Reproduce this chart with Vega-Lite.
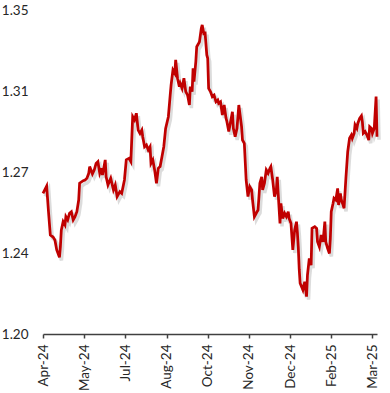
{
  "$schema": "https://vega.github.io/schema/vega-lite/v6.json",
  "width": 334,
  "height": 324,
  "autosize": "none",
  "padding": {"left": 43, "top": 10, "right": 13, "bottom": 59},
  "background": "white",
  "config": {"view": {"stroke": null}, "font": "Lato"},
  "data": {"values": [
    {"date": "2024-04-04", "rate": 1.2651}, {"date": "2024-04-08", "rate": 1.2685}, {"date": "2024-04-10", "rate": 1.2566},
    {"date": "2024-04-12", "rate": 1.2458}, {"date": "2024-04-15", "rate": 1.2449}, {"date": "2024-04-17", "rate": 1.2435},
    {"date": "2024-04-19", "rate": 1.2389}, {"date": "2024-04-22", "rate": 1.2355}, {"date": "2024-04-23", "rate": 1.2404},
    {"date": "2024-04-24", "rate": 1.2481}, {"date": "2024-04-26", "rate": 1.2520}, {"date": "2024-04-28", "rate": 1.2505},
    {"date": "2024-04-29", "rate": 1.2543}, {"date": "2024-05-01", "rate": 1.2528}, {"date": "2024-05-03", "rate": 1.2559},
    {"date": "2024-05-05", "rate": 1.2566}, {"date": "2024-05-07", "rate": 1.2528}, {"date": "2024-05-09", "rate": 1.2543},
    {"date": "2024-05-11", "rate": 1.2566}, {"date": "2024-05-13", "rate": 1.2620}, {"date": "2024-05-14", "rate": 1.2698},
    {"date": "2024-05-18", "rate": 1.2710}, {"date": "2024-05-20", "rate": 1.2713}, {"date": "2024-05-22", "rate": 1.2721},
    {"date": "2024-05-24", "rate": 1.2744}, {"date": "2024-05-25", "rate": 1.2775}, {"date": "2024-05-27", "rate": 1.2752},
    {"date": "2024-05-28", "rate": 1.2741}, {"date": "2024-05-30", "rate": 1.2759}, {"date": "2024-06-01", "rate": 1.2790},
    {"date": "2024-06-03", "rate": 1.2798}, {"date": "2024-06-05", "rate": 1.2744}, {"date": "2024-06-07", "rate": 1.2767},
    {"date": "2024-06-08", "rate": 1.2736}, {"date": "2024-06-11", "rate": 1.2806}, {"date": "2024-06-12", "rate": 1.2728},
    {"date": "2024-06-14", "rate": 1.2690}, {"date": "2024-06-17", "rate": 1.2721}, {"date": "2024-06-20", "rate": 1.2667},
    {"date": "2024-06-22", "rate": 1.2690}, {"date": "2024-06-24", "rate": 1.2636}, {"date": "2024-06-27", "rate": 1.2659},
    {"date": "2024-06-29", "rate": 1.2651}, {"date": "2024-07-02", "rate": 1.2713}, {"date": "2024-07-04", "rate": 1.2806},
    {"date": "2024-07-07", "rate": 1.2813}, {"date": "2024-07-09", "rate": 1.2798}, {"date": "2024-07-11", "rate": 1.3006},
    {"date": "2024-07-13", "rate": 1.2991}, {"date": "2024-07-15", "rate": 1.3022}, {"date": "2024-07-17", "rate": 1.2944},
    {"date": "2024-07-19", "rate": 1.2929}, {"date": "2024-07-21", "rate": 1.2944}, {"date": "2024-07-22", "rate": 1.2913},
    {"date": "2024-07-24", "rate": 1.2867}, {"date": "2024-07-26", "rate": 1.2875}, {"date": "2024-07-28", "rate": 1.2852},
    {"date": "2024-07-30", "rate": 1.2867}, {"date": "2024-07-31", "rate": 1.2790}, {"date": "2024-08-02", "rate": 1.2806},
    {"date": "2024-08-04", "rate": 1.2759}, {"date": "2024-08-06", "rate": 1.2698}, {"date": "2024-08-08", "rate": 1.2767},
    {"date": "2024-08-10", "rate": 1.2775}, {"date": "2024-08-12", "rate": 1.2821}, {"date": "2024-08-14", "rate": 1.2867},
    {"date": "2024-08-16", "rate": 1.2952}, {"date": "2024-08-19", "rate": 1.3006}, {"date": "2024-08-21", "rate": 1.3106},
    {"date": "2024-08-22", "rate": 1.3153}, {"date": "2024-08-24", "rate": 1.3222}, {"date": "2024-08-26", "rate": 1.3207},
    {"date": "2024-08-27", "rate": 1.3269}, {"date": "2024-08-29", "rate": 1.3184}, {"date": "2024-08-31", "rate": 1.3145},
    {"date": "2024-09-01", "rate": 1.3160}, {"date": "2024-09-03", "rate": 1.3137}, {"date": "2024-09-05", "rate": 1.3184},
    {"date": "2024-09-07", "rate": 1.3122}, {"date": "2024-09-09", "rate": 1.3106}, {"date": "2024-09-11", "rate": 1.3060},
    {"date": "2024-09-12", "rate": 1.3145}, {"date": "2024-09-14", "rate": 1.3122}, {"date": "2024-09-15", "rate": 1.3230},
    {"date": "2024-09-16", "rate": 1.3168}, {"date": "2024-09-18", "rate": 1.3261}, {"date": "2024-09-19", "rate": 1.3330},
    {"date": "2024-09-21", "rate": 1.3345}, {"date": "2024-09-22", "rate": 1.3353}, {"date": "2024-09-24", "rate": 1.3415},
    {"date": "2024-09-25", "rate": 1.3431}, {"date": "2024-09-27", "rate": 1.3384}, {"date": "2024-09-28", "rate": 1.3400},
    {"date": "2024-09-30", "rate": 1.3292}, {"date": "2024-10-01", "rate": 1.3276}, {"date": "2024-10-02", "rate": 1.3137},
    {"date": "2024-10-04", "rate": 1.3122}, {"date": "2024-10-06", "rate": 1.3099}, {"date": "2024-10-08", "rate": 1.3106},
    {"date": "2024-10-10", "rate": 1.3075}, {"date": "2024-10-12", "rate": 1.3083}, {"date": "2024-10-13", "rate": 1.3068},
    {"date": "2024-10-15", "rate": 1.3075}, {"date": "2024-10-17", "rate": 1.3014}, {"date": "2024-10-19", "rate": 1.3060},
    {"date": "2024-10-21", "rate": 1.2999}, {"date": "2024-10-22", "rate": 1.2983}, {"date": "2024-10-24", "rate": 1.2937},
    {"date": "2024-10-26", "rate": 1.2983}, {"date": "2024-10-28", "rate": 1.3029}, {"date": "2024-10-29", "rate": 1.2952},
    {"date": "2024-10-31", "rate": 1.2913}, {"date": "2024-11-02", "rate": 1.2952}, {"date": "2024-11-04", "rate": 1.3060},
    {"date": "2024-11-07", "rate": 1.2960}, {"date": "2024-11-08", "rate": 1.2898}, {"date": "2024-11-10", "rate": 1.2883},
    {"date": "2024-11-12", "rate": 1.2713}, {"date": "2024-11-14", "rate": 1.2636}, {"date": "2024-11-16", "rate": 1.2682},
    {"date": "2024-11-18", "rate": 1.2667}, {"date": "2024-11-19", "rate": 1.2620}, {"date": "2024-11-21", "rate": 1.2543},
    {"date": "2024-11-23", "rate": 1.2559}, {"date": "2024-11-25", "rate": 1.2574}, {"date": "2024-11-27", "rate": 1.2698},
    {"date": "2024-11-29", "rate": 1.2728}, {"date": "2024-11-30", "rate": 1.2667}, {"date": "2024-12-02", "rate": 1.2698},
    {"date": "2024-12-04", "rate": 1.2759}, {"date": "2024-12-06", "rate": 1.2744}, {"date": "2024-12-08", "rate": 1.2767},
    {"date": "2024-12-09", "rate": 1.2775}, {"date": "2024-12-11", "rate": 1.2713}, {"date": "2024-12-13", "rate": 1.2636},
    {"date": "2024-12-15", "rate": 1.2667}, {"date": "2024-12-16", "rate": 1.2728}, {"date": "2024-12-17", "rate": 1.2651},
    {"date": "2024-12-19", "rate": 1.2512}, {"date": "2024-12-20", "rate": 1.2605}, {"date": "2024-12-22", "rate": 1.2535},
    {"date": "2024-12-24", "rate": 1.2559}, {"date": "2024-12-26", "rate": 1.2543}, {"date": "2024-12-28", "rate": 1.2566},
    {"date": "2024-12-29", "rate": 1.2535}, {"date": "2024-12-31", "rate": 1.2512}, {"date": "2025-01-02", "rate": 1.2389},
    {"date": "2025-01-04", "rate": 1.2481}, {"date": "2025-01-06", "rate": 1.2520}, {"date": "2025-01-07", "rate": 1.2470},
    {"date": "2025-01-08", "rate": 1.2400}, {"date": "2025-01-09", "rate": 1.2300}, {"date": "2025-01-10", "rate": 1.2235},
    {"date": "2025-01-11", "rate": 1.2225}, {"date": "2025-01-13", "rate": 1.2204}, {"date": "2025-01-15", "rate": 1.2242},
    {"date": "2025-01-17", "rate": 1.2173}, {"date": "2025-01-18", "rate": 1.2273}, {"date": "2025-01-20", "rate": 1.2350},
    {"date": "2025-01-22", "rate": 1.2319}, {"date": "2025-01-23", "rate": 1.2489}, {"date": "2025-01-26", "rate": 1.2497},
    {"date": "2025-01-28", "rate": 1.2489}, {"date": "2025-01-29", "rate": 1.2427}, {"date": "2025-01-31", "rate": 1.2404},
    {"date": "2025-02-02", "rate": 1.2458}, {"date": "2025-02-04", "rate": 1.2427}, {"date": "2025-02-06", "rate": 1.2520},
    {"date": "2025-02-07", "rate": 1.2427}, {"date": "2025-02-09", "rate": 1.2397}, {"date": "2025-02-11", "rate": 1.2373},
    {"date": "2025-02-12", "rate": 1.2443}, {"date": "2025-02-13", "rate": 1.2566}, {"date": "2025-02-15", "rate": 1.2605},
    {"date": "2025-02-16", "rate": 1.2628}, {"date": "2025-02-18", "rate": 1.2620}, {"date": "2025-02-20", "rate": 1.2674},
    {"date": "2025-02-21", "rate": 1.2597}, {"date": "2025-02-23", "rate": 1.2651}, {"date": "2025-02-24", "rate": 1.2620},
    {"date": "2025-02-26", "rate": 1.2597}, {"date": "2025-02-27", "rate": 1.2582}, {"date": "2025-03-01", "rate": 1.2721},
    {"date": "2025-03-03", "rate": 1.2844}, {"date": "2025-03-05", "rate": 1.2906}, {"date": "2025-03-07", "rate": 1.2921},
    {"date": "2025-03-08", "rate": 1.2906}, {"date": "2025-03-10", "rate": 1.2929}, {"date": "2025-03-11", "rate": 1.2968},
    {"date": "2025-03-13", "rate": 1.2952}, {"date": "2025-03-14", "rate": 1.2975}, {"date": "2025-03-16", "rate": 1.2998},
    {"date": "2025-03-18", "rate": 1.3010}, {"date": "2025-03-19", "rate": 1.2983}, {"date": "2025-03-20", "rate": 1.2929},
    {"date": "2025-03-22", "rate": 1.2937}, {"date": "2025-03-24", "rate": 1.2921}, {"date": "2025-03-26", "rate": 1.2898},
    {"date": "2025-03-27", "rate": 1.2960}, {"date": "2025-03-29", "rate": 1.2952}, {"date": "2025-03-30", "rate": 1.2929},
    {"date": "2025-04-01", "rate": 1.2952}, {"date": "2025-04-03", "rate": 1.3099}, {"date": "2025-04-04", "rate": 1.2913}
  ]},
  "encoding": {
    "x": {
      "field": "date", "type": "temporal",
      "scale": {"type": "utc", "domain": [{"year": 2024, "month": 4, "date": 4, "utc": true}, {"year": 2025, "month": 4, "date": 4, "utc": true}]},
      "axis": {
        "title": null,
        "values": [
          {"year": 2024, "month": 4, "date": 4, "utc": true},
          {"year": 2024, "month": 5, "date": 19, "utc": true},
          {"year": 2024, "month": 7, "date": 3, "utc": true},
          {"year": 2024, "month": 8, "date": 17, "utc": true},
          {"year": 2024, "month": 10, "date": 1, "utc": true},
          {"year": 2024, "month": 11, "date": 15, "utc": true},
          {"year": 2024, "month": 12, "date": 30, "utc": true},
          {"year": 2025, "month": 2, "date": 13, "utc": true},
          {"year": 2025, "month": 3, "date": 30, "utc": true}
        ],
        "labelExpr": "utcFormat(datum.value, '%b-%y')",
        "labelAngle": -90, "labelAlign": "right", "labelBaseline": "middle",
        "labelPadding": 6, "labelFontSize": 13.5, "labelColor": "#262626",
        "labelFont": "Lato", "labelOverlap": false, "labelFlush": false,
        "domainColor": "#404040", "domainWidth": 1.5,
        "tickColor": "#404040", "tickWidth": 1.5, "tickSize": 4,
        "grid": false
      }
    },
    "y": {
      "field": "rate", "type": "quantitative",
      "scale": {"domain": [1.2, 1.35], "zero": false, "nice": false},
      "axis": {
        "title": null,
        "values": [1.2, 1.2375, 1.275, 1.3125, 1.35],
        "format": ".2f",
        "domain": false, "ticks": false, "grid": false,
        "labelPadding": 15, "labelFontSize": 13.5, "labelColor": "#262626",
        "labelFont": "Lato", "labelFlush": false
      }
    }
  },
  "layer": [
    {"mark": {"type": "line", "color": "#9a9a9a", "opacity": 0.35, "strokeWidth": 3.5, "xOffset": 2, "yOffset": 3, "interpolate": "linear"}},
    {"mark": {"type": "line", "color": "#C00000", "strokeWidth": 2.75, "interpolate": "linear"}}
  ]
}
